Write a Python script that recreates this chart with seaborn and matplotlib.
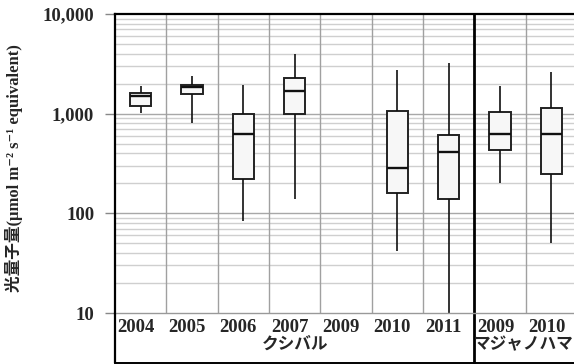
import numpy as np
import pandas as pd
import matplotlib
matplotlib.use("Agg")
import matplotlib.pyplot as plt
import seaborn as sns
from matplotlib.lines import Line2D
import matplotlib.transforms as mtransforms

# 各年の箱ひげ図の統計値（最小, 第1四分位, 中央値, 第3四分位, 最大）
categorias = ["K2004", "K2005", "K2006", "K2007", "K2009", "K2010", "K2011", "M2009", "M2010"]
rotulos_ano = ["2004", "2005", "2006", "2007", "2009", "2010", "2011", "2009", "2010"]
minimo = [1005, 810, 84, 140, None, 42, 10, 203, 50]
q1 = [1200, 1585, 222, 1000, None, 161, 140, 433, 250]
mediana = [1510, 1860, 626, 1670, None, 286, 417, 626, 626]
q3 = [1610, 1950, 995, 2290, None, 1064, 612, 1028, 1148]
maximo = [1905, 2400, 1950, 3950, None, 2750, 3260, 1875, 2630]
grupos = ["クシバル", "マジャノハマ"]
titulo_y = "光量子量(μmol m⁻² s⁻¹ equivalent)"

# monta uma tabela longa: cinco pontos por categoria reproduzem os quartis exatos
linhas = []
for i, cat in enumerate(categorias):
    if minimo[i] is None:
        continue
    for v in (minimo[i], q1[i], mediana[i], q3[i], maximo[i]):
        linhas.append({"cat": cat, "valor": v})
dados = pd.DataFrame(linhas)

sns.set_style("white")
plt.rcParams["font.family"] = ["Liberation Serif", "DejaVu Serif", "Noto Sans CJK JP"]

W, H = 574, 364
fig = plt.figure(figsize=(W / 100, H / 100), dpi=100)
ax_l, ax_r, ax_t, ax_b = 115, 577, 14, 313
ax = fig.add_axes([ax_l / W, 1 - ax_b / H, (ax_r - ax_l) / W, (ax_b - ax_t) / H])

sns.boxplot(data=dados, x="cat", y="valor", order=categorias, ax=ax,
            whis=(0, 100), width=0.42, color="#f7f7f7", linecolor="#222222",
            linewidth=1.4, log_scale=True, showfliers=False,
            medianprops={"linewidth": 1.7, "color": "#111111"},
            whiskerprops={"linewidth": 1.2, "color": "#111111"},
            capprops={"linewidth": 0})

ax.set_ylim(10, 10000)
ax.set_xlim(-0.5, len(categorias) - 0.5)

# grade horizontal: maior e menor
for dec in [10, 100, 1000]:
    for m in range(2, 10):
        ax.axhline(dec * m, color="#cfcfcf", linewidth=1.0, zorder=0)
for v in [100, 1000]:
    ax.axhline(v, color="#a8a8a8", linewidth=1.0, zorder=0)
# grade vertical entre categorias
for k in range(1, len(categorias)):
    if k == 7:
        continue
    ax.axvline(k - 0.5, color="#a0a0a0", linewidth=1.0, zorder=0)

ax.set_yticks([10, 100, 1000, 10000])
ax.set_yticklabels(["10", "100", "1,000", "10,000"], fontsize=13.5, fontweight="bold")
ax.yaxis.set_minor_locator(matplotlib.ticker.NullLocator())
ax.tick_params(axis="y", which="major", direction="out", length=7, width=1,
               color="#888888", left=True, pad=8)
ax.set_xticks([])
ax.set_xlabel("")
ax.set_ylabel("")

ax.spines["right"].set_visible(False)
ax.spines["top"].set_linewidth(1.6)
ax.spines["top"].set_color("black")
ax.spines["left"].set_linewidth(1.6)
ax.spines["left"].set_color("black")
ax.spines["bottom"].set_linewidth(1.0)
ax.spines["bottom"].set_color("#999999")

# linhas da tabela abaixo do eixo
trans = mtransforms.blended_transform_factory(ax.transData, fig.transFigure)
fig.add_artist(Line2D([ax_l / W, ax_l / W], [1 - ax_b / H, 1 - 363 / H],
                      transform=fig.transFigure, color="black", linewidth=1.6))
fig.add_artist(Line2D([ax_l / W, 1], [1 - 363 / H, 1 - 363 / H],
                      transform=fig.transFigure, color="black", linewidth=1.4))
ax.add_artist(Line2D([6.5, 6.5], [1 - ax_t / H, 1 - 363 / H], transform=trans,
                     color="black", linewidth=2.0, clip_on=False))

# rótulos dos anos e dos grupos
for i, rot in enumerate(rotulos_ano):
    xpos = i - 0.1 if i < 7 else i - 0.08
    fig.text(xpos, 1 - 327 / H, rot, transform=trans,
             ha="center", va="center", fontsize=13.5, fontweight="bold")
fig.text(3.0, 1 - 345 / H, grupos[0], transform=trans, ha="center", va="center",
         fontsize=12, fontweight="bold")
fig.text(7.45, 1 - 345 / H, grupos[1], transform=trans, ha="center", va="center",
         fontsize=12, fontweight="bold")

fig.text(14 / W, 1 - 168 / H, titulo_y,
         rotation=90, ha="center", va="center", fontsize=12, fontweight="bold")

fig.savefig("out.png", dpi=100)
